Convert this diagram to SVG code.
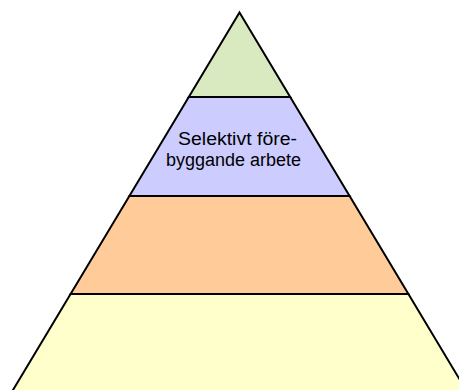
<svg xmlns="http://www.w3.org/2000/svg" width="459" height="390" viewBox="0 0 459 390">
<style>
.layer{stroke:#000;stroke-width:2;stroke-linejoin:miter}
.lbl{font-family:"Liberation Sans",Arial,sans-serif;font-size:18px;fill:#000}
</style>
<rect width="459" height="390" fill="#fff"/>
<g id="level4"><polygon class="layer" fill="#FFFFCC" points="70.6,294 408.4,294 467.2,392 11.8,392"/></g>
<g id="level3"><polygon class="layer" fill="#FFCC99" points="129.4,196 349.6,196 408.4,294 70.6,294"/></g>
<g id="level2"><polygon class="layer" fill="#CCCCFF" points="188.8,97 290.2,97 349.6,196 129.4,196"/>
<text class="lbl" x="178" y="144.5" textLength="119" lengthAdjust="spacingAndGlyphs">Selektivt före-</text>
<text class="lbl" x="166" y="165.5" textLength="135" lengthAdjust="spacingAndGlyphs">byggande arbete</text></g>
<g id="level1"><polygon class="layer" fill="#D9EAC1" points="239.5,12.5 290.2,97 188.8,97"/></g>
<g id="connectors"></g>
</svg>
